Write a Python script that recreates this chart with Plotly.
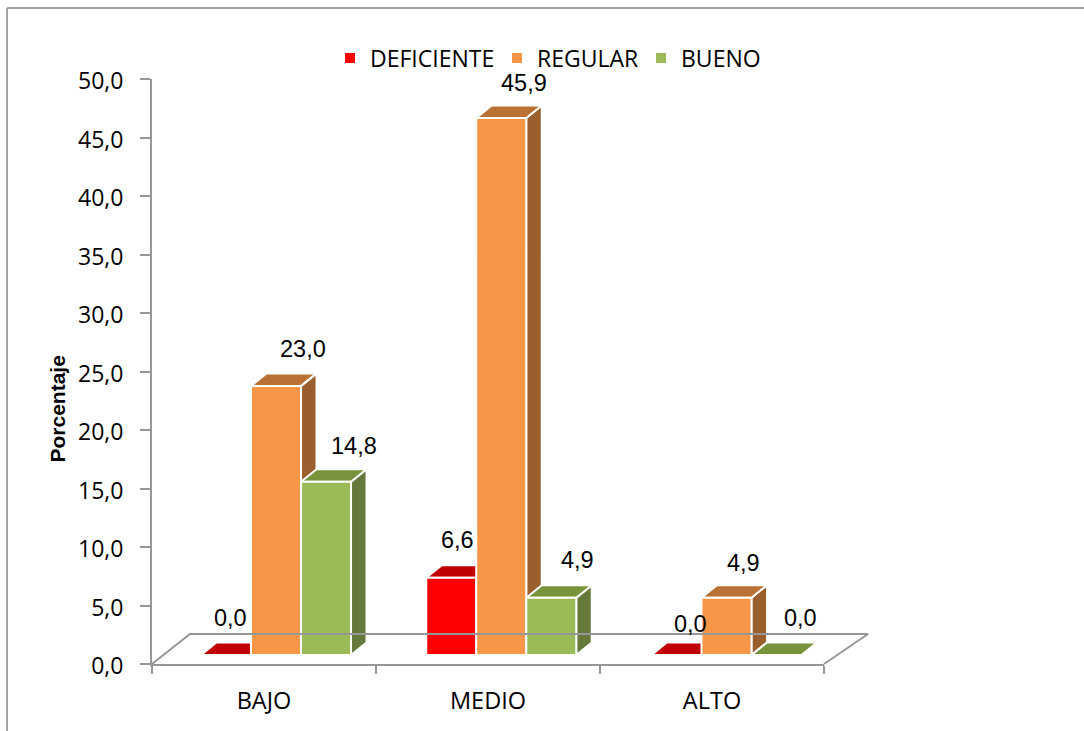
import plotly.graph_objects as go

categories = ["BAJO", "MEDIO", "ALTO"]
series_names = ["DEFICIENTE", "REGULAR", "BUENO"]
deficiente = [0.0, 6.6, 0.0]
regular = [23.0, 45.9, 4.9]
bueno = [14.8, 4.9, 0.0]
y_ticks = [0, 5, 10, 15, 20, 25, 30, 35, 40, 45, 50]

W, H = 1084, 731
front_colors = ["#FF0000", "#F79646", "#9BBB59"]
top_colors = ["#C00000", "#B97135", "#77933C"]
side_colors = ["#A00000", "#9A5F2C", "#64793A"]
GREY = "#979797"
# label nudges in px (right, up), one row per series
label_shift = [[(4, 37), (6, 38), (14, 31)],
               [(27, 37), (23, 35), (17, 35)],
               [(28, 36), (26, 38), (24, 37)]]

def px_x(a, b):
    return [a / W, b / W]
def px_y(bottom, top):
    return [(H - bottom) / H, (H - top) / H]

all_values = [deficiente, regular, bueno]
bargap = 0.334
bw = (1 - bargap) / 3
x_unit = (839.1 - 163.4) / 3
y_unit = 11.7
depth_x = 15.5 / x_unit
depth_y = 12.5 / y_unit

fig = go.Figure()

# anchor trace so the visible wall axes exist
fig.add_trace(go.Scatter(x=[0, 1, 2], y=[None, None, None], mode="lines",
                         hoverinfo="skip", showlegend=False, xaxis="x", yaxis="y"))

# floor outline on a full-page hidden axis pair with the wall axes' scale
u = 3 / (824 - 152)
fig.add_trace(go.Scatter(
    x=[-0.5, -0.5 + 38 * u, 2.5 + 44 * u, 2.5],
    y=[0, 30 / y_unit, 30 / y_unit, 0],
    mode="lines", line=dict(color=GREY, width=2), hoverinfo="skip",
    showlegend=False, xaxis="x4", yaxis="y4", cliponaxis=False))

# 3D faces, derived from the values
for s, vals in enumerate(all_values):
    sx, sy, tx, ty = [], [], [], []
    for i, v in enumerate(vals):
        l = i + (s - 1) * bw - bw / 2
        r = l + bw
        if v > 0:
            sx += [r, r + depth_x, r + depth_x, r, r, None]
            sy += [0, depth_y, v + depth_y, v, 0, None]
        tx += [l, r, r + depth_x, l + depth_x, l, None]
        ty += [v, v, v + depth_y, v + depth_y, v, None]
    for xs, ys, col in ((sx, sy, side_colors[s]), (tx, ty, top_colors[s])):
        fig.add_trace(go.Scatter(
            x=xs, y=ys, mode="lines", fill="toself", fillcolor=col,
            line=dict(color="white", width=2), hoverinfo="skip",
            showlegend=False, xaxis="x2", yaxis="y2", cliponaxis=False))

# front faces: real bars
legend_ids = ["legend", "legend2", "legend3"]
for s, vals in enumerate(all_values):
    fig.add_trace(go.Bar(
        x=[0, 1, 2], y=vals, name=series_names[s],
        marker=dict(color=front_colors[s], line=dict(color="white", width=2)),
        xaxis="x3", yaxis="y3", legend=legend_ids[s], showlegend=True))

annotations = []
for s, vals in enumerate(all_values):
    for i, v in enumerate(vals):
        dx, dy = label_shift[s][i]
        annotations.append(dict(
            x=i + (s - 1) * bw, y=v, xref="x3", yref="y3",
            text=f"{v:.1f}".replace(".", ","), showarrow=False,
            xanchor="center", yanchor="middle", xshift=dx, yshift=dy,
            font=dict(family="Liberation Sans", size=23.5, color="black")))
annotations.append(dict(
    x=57.5 / W, y=(H - 409) / H, xref="paper", yref="paper", text="<b>Porcentaje</b>",
    textangle=-90, showarrow=False, xanchor="center", yanchor="middle",
    font=dict(family="Liberation Sans", size=21, color="black")))

legend_font = dict(family="Open Sans", size=23, color="black")
def legend_at(px):
    return dict(orientation="h", x=px / W, xanchor="left", y=(H - 58) / H, yanchor="middle",
                font=legend_font, bgcolor="rgba(0,0,0,0)")

hidden = dict(visible=False, fixedrange=True)
fig.update_layout(
    width=W, height=H, autosize=False,
    margin=dict(l=0, r=0, t=0, b=0, autoexpand=False),
    paper_bgcolor="white", plot_bgcolor="rgba(0,0,0,0)",
    separators=",.",
    barmode="group", bargap=bargap, bargroupgap=0,
    font=dict(family="Open Sans", color="black"),
    legend=legend_at(330), legend2=legend_at(497), legend3=legend_at(641),
    xaxis=dict(domain=px_x(152, 824), range=[-0.5, 2.5], anchor="y",
               tickmode="array", tickvals=[0, 1, 2], ticktext=categories,
               ticks="", ticklabelstandoff=15, tickfont=dict(family="Open Sans", size=23.5),
               showgrid=False, zeroline=False, showline=True, linecolor=GREY, linewidth=2,
               minor=dict(tickmode="array", tickvals=[-0.5, 0.5, 1.5, 2.5], ticks="outside",
                          ticklen=8, tickwidth=2, tickcolor=GREY, showgrid=False)),
    yaxis=dict(domain=px_y(664, 79), range=[0, 50], anchor="x",
               tickmode="array", tickvals=y_ticks, tickformat=".1f",
               ticks="outside", ticklen=10, tickwidth=2, tickcolor=GREY,
               ticklabelstandoff=12, ticklabelshift=2, tickfont=dict(family="Open Sans", size=23),
               showgrid=False, zeroline=False, showline=True, linecolor=GREY, linewidth=2),
    xaxis2=dict(domain=px_x(163.4, 839.1), range=[-0.5, 2.5], anchor="y2", **hidden),
    yaxis2=dict(domain=px_y(655, 70), range=[0, 50], anchor="x2", **hidden),
    xaxis3=dict(range=[-0.5, 2.5], overlaying="x2", anchor="y3", **hidden),
    yaxis3=dict(range=[0, 50], overlaying="y2", anchor="x3", **hidden),
    xaxis4=dict(domain=[0, 1], range=[-0.5 - 152 * u, -0.5 + (W - 152) * u], anchor="y4", **hidden),
    yaxis4=dict(domain=[0, 1], range=[(664 - H) / y_unit, 664 / y_unit], anchor="x4", **hidden),
    annotations=annotations,
    shapes=[dict(type="line", xref="paper", yref="paper", x0=7 / W, x1=7 / W, y0=0, y1=(H - 8) / H,
                 line=dict(color="#868686", width=1.5)),
            dict(type="line", xref="paper", yref="paper", x0=7 / W, x1=1, y0=(H - 8) / H, y1=(H - 8) / H,
                 line=dict(color="#868686", width=1.5))],
)

fig.write_html("out.html", config=dict(displayModeBar=False),
               post_script="document.body.style.margin='0';")
